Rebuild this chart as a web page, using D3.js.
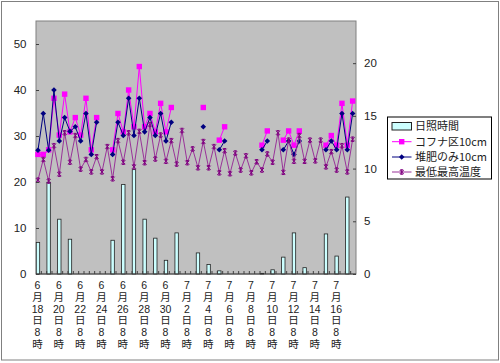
<!DOCTYPE html>
<html>
<head>
<meta charset="utf-8">
<script src="https://cdn.jsdelivr.net/npm/d3@7"></script>
<style>
  body { margin: 0; background: #fff; }
  svg { display: block; font-family: "Noto Sans CJK JP", "Noto Sans", sans-serif; }
</style>
</head>
<body>
<svg id="chart" width="500" height="363"></svg>
<script>
// x labels shown every 2 days (each day has two readings: 8時 and afternoon)
const tickLabels = [
  ["6", "18"], ["6", "20"], ["6", "22"], ["6", "24"], ["6", "26"], ["6", "28"], ["6", "30"],
  ["7", "2"], ["7", "4"], ["7", "6"], ["7", "8"], ["7", "10"], ["7", "12"], ["7", "14"], ["7", "16"],
];

// 日照時間 (hours, one per day, right axis)
const sunshine = [3.0, 8.7, 5.2, 3.3, 0, 0, 0, 3.2, 8.5, 9.9,
                  5.2, 3.4, 1.3, 3.9, 0, 2.0, 0.9, 0.3, 0, 0,
                  0, 0.06, 0.4, 1.6, 3.9, 0.6, 0, 3.8, 1.7, 7.3];

// コフナ区10cm
const kofuna = [26.0, 26.0, 27.0, 38.2, 30.2, 39.1, 30.9, 34.0, 30.2, 38.2,
                27.0, 34.0, null, null, 27.0, 34.9, 30.9, 40.0, 32.0, 45.1,
                32.0, 34.9, 30.9, 37.1, 30.9, 36.2, null, null, null, null,
                null, 36.2, null, null, 29.1, 32.0, null, null, null, null,
                null, null, 28.0, 31.1, null, null, 29.1, 31.1, 28.0, 31.1,
                null, null, null, null, 28.0, 30.1, 28.0, 37.1, 28.0, 37.6];

// 堆肥のみ10cm
const taihi = [26.9, 34.9, 26.9, 40.0, 28.9, 34.0, 31.0, 32.0, 28.9, 34.9,
               26.0, 33.0, null, null, 26.0, 33.0, 30.1, 38.2, 30.1, 38.2,
               30.9, 34.0, 30.1, 34.9, 28.9, 33.0, null, null, null, null,
               null, 32.0, null, null, 27.0, 28.9, null, null, null, null,
               null, null, 27.0, 28.9, null, null, 27.0, 28.9, 26.0, 28.9,
               null, null, null, null, 27.0, 28.9, 27.0, 34.9, 27.0, 34.9];

// 最低最高温度
const temps = [20.4, 24.9, 20.2, 27.9, 21.7, 30.7, 24.3, 30.1, 22.8, 24.9,
               22.2, 25.5, 22.2, 27.7, 20.7, 29.0, 24.3, 30.7, 23.3, 31.0,
               24.2, 32.5, 25.0, 30.2, 24.5, 29.0, 23.9, 31.2, 24.2, 27.2,
               23.1, 28.8, 23.1, 27.7, 22.0, 26.8, 21.8, 26.3, 22.6, 25.7,
               22.0, 24.4, 22.6, 26.1, 24.3, 30.7, 22.1, 29.1, 24.5, 30.1,
               24.5, 29.1, 24.6, 29.1, 23.3, 26.6, 22.6, 27.9, 22.2, 29.3];

const legendNames = ["日照時間", "コフナ区10cm", "堆肥のみ10cm", "最低最高温度"];

const svg = d3.select("#chart");
const pL = 36, pR = 356, pT = 21, pB = 274;
const nCat = sunshine.length * 2;

// outer frame
svg.append("rect")
  .attr("x", 1.5).attr("y", 1.5).attr("width", 497).attr("height", 358.5)
  .attr("fill", "#fff").attr("stroke", "#808080");

const x = d3.scaleBand().domain(d3.range(nCat)).range([pL, pR]);
const cx = (i) => x(i) + x.bandwidth() / 2 - 0.7;
const yL = d3.scaleLinear().domain([0, 55]).range([pB, pT]);
const yR = d3.scaleLinear().domain([0, 24]).range([pB, pT]);

// plot area
svg.append("rect")
  .attr("x", pL).attr("y", pT).attr("width", pR - pL).attr("height", pB - pT)
  .attr("fill", "#c0c0c0").attr("stroke", "#808080");

// sunshine bars
svg.append("g").selectAll("rect")
  .data(sunshine)
  .join("rect")
  .attr("x", (d, i) => cx(i * 2) - 1.7)
  .attr("y", d => yR(d))
  .attr("width", 3.4)
  .attr("height", d => pB - yR(d))
  .attr("fill", "#ccffff")
  .attr("stroke", "#222")
  .attr("stroke-width", 0.8);

// category ticks on the x axis
svg.append("g").selectAll("line")
  .data(d3.range(1, nCat))
  .join("line")
  .attr("x1", d => x(d)).attr("x2", d => x(d))
  .attr("y1", pB).attr("y2", pB - 3)
  .attr("stroke", "#404040");

svg.append("line")
  .attr("x1", pL).attr("x2", pR).attr("y1", pB).attr("y2", pB)
  .attr("stroke", "#404040");

const line = d3.line()
  .defined(d => d != null)
  .x((d, i) => cx(i))
  .y(d => yL(d));

const pts = (arr) => arr.map((v, i) => ({ v, i })).filter(d => d.v != null);

// コフナ区10cm
svg.append("path").datum(kofuna)
  .attr("d", line).attr("fill", "none").attr("stroke", "#ff00ff").attr("stroke-width", 1);
svg.append("g").selectAll("rect")
  .data(pts(kofuna))
  .join("rect")
  .attr("x", d => cx(d.i) - 2.7).attr("y", d => yL(d.v) - 2.7)
  .attr("width", 5.4).attr("height", 5.4)
  .attr("fill", "#ff00ff");

// 堆肥のみ10cm
svg.append("path").datum(taihi)
  .attr("d", line).attr("fill", "none").attr("stroke", "#000080").attr("stroke-width", 1);
svg.append("g").selectAll("path")
  .data(pts(taihi))
  .join("path")
  .attr("transform", d => `translate(${cx(d.i)},${yL(d.v)})`)
  .attr("d", "M0,-2.8L2.8,0L0,2.8L-2.8,0Z")
  .attr("fill", "#000080");

// 最低最高温度
svg.append("path").datum(temps)
  .attr("d", line).attr("fill", "none").attr("stroke", "#993399").attr("stroke-width", 1);
const star = "M-2,-2L2,2M-2,2L2,-2M0,-2.5L0,2.5M-1.5,-2.2L1.5,-2.2M-1.5,2.2L1.5,2.2";
svg.append("g").selectAll("path")
  .data(pts(temps))
  .join("path")
  .attr("transform", d => `translate(${cx(d.i)},${yL(d.v)})`)
  .attr("d", star)
  .attr("fill", "none").attr("stroke", "#800080").attr("stroke-width", 1);

// left axis
const axL = svg.append("g")
  .attr("transform", `translate(${pL},0)`)
  .call(d3.axisLeft(yL).tickValues([0, 10, 20, 30, 40, 50]).tickSize(-3).tickPadding(9.5));
axL.select(".domain").remove();
axL.selectAll("line").attr("stroke", "#404040");
axL.selectAll("text").attr("font-size", 11.5).attr("fill", "#222");

// right axis
const axR = svg.append("g")
  .attr("transform", `translate(${pR},0)`)
  .call(d3.axisRight(yR).tickValues([0, 5, 10, 15, 20]).tickSize(-3).tickPadding(8));
axR.select(".domain").remove();
axR.selectAll("line").attr("stroke", "#404040");
axR.selectAll("text").attr("font-size", 11.5).attr("fill", "#222");

// x labels, stacked vertically, one text per line
const xg = svg.append("g")
  .attr("font-family", "'Liberation Sans', 'Noto Sans CJK JP', sans-serif")
  .attr("font-size", 10.5)
  .attr("fill", "#222")
  .attr("text-anchor", "middle");
tickLabels.forEach((d, j) => {
  const px = x(j * 4) + 1.5;
  [d[0], "月", d[1], "日", "8", "時"].forEach((s, k) => {
    xg.append("text").attr("x", px).attr("y", 289 + k * 11.8).text(s);
  });
});

// legend
const lg = svg.append("g");
lg.append("rect")
  .attr("x", 387.5).attr("y", 117).attr("width", 104).attr("height", 62)
  .attr("fill", "#fff").attr("stroke", "#000");
const rows = [126, 141.7, 157, 172];
lg.append("rect").attr("x", 392).attr("y", 122.5).attr("width", 19.5).attr("height", 7.5)
  .attr("fill", "#ccffff").attr("stroke", "#222");
lg.append("line").attr("x1", 392).attr("x2", 411.5).attr("y1", rows[1]).attr("y2", rows[1]).attr("stroke", "#ff00ff");
lg.append("rect").attr("x", 399).attr("y", rows[1] - 2.7).attr("width", 5.4).attr("height", 5.4).attr("fill", "#ff00ff");
lg.append("line").attr("x1", 392).attr("x2", 411.5).attr("y1", rows[2]).attr("y2", rows[2]).attr("stroke", "#000080");
lg.append("path").attr("transform", `translate(401.7,${rows[2]})`).attr("d", "M0,-2.8L2.8,0L0,2.8L-2.8,0Z").attr("fill", "#000080");
lg.append("line").attr("x1", 392).attr("x2", 411.5).attr("y1", rows[3]).attr("y2", rows[3]).attr("stroke", "#993399");
lg.append("path").attr("transform", `translate(401.7,${rows[3]})`).attr("d", star).attr("fill", "none").attr("stroke", "#800080");
lg.selectAll("text.lbl")
  .data(legendNames)
  .join("text")
  .attr("class", "lbl")
  .attr("x", 415).attr("y", (d, i) => rows[i] + 4)
  .attr("font-size", 11)
  .attr("fill", "#222")
  .text(d => d);
</script>
</body>
</html>
